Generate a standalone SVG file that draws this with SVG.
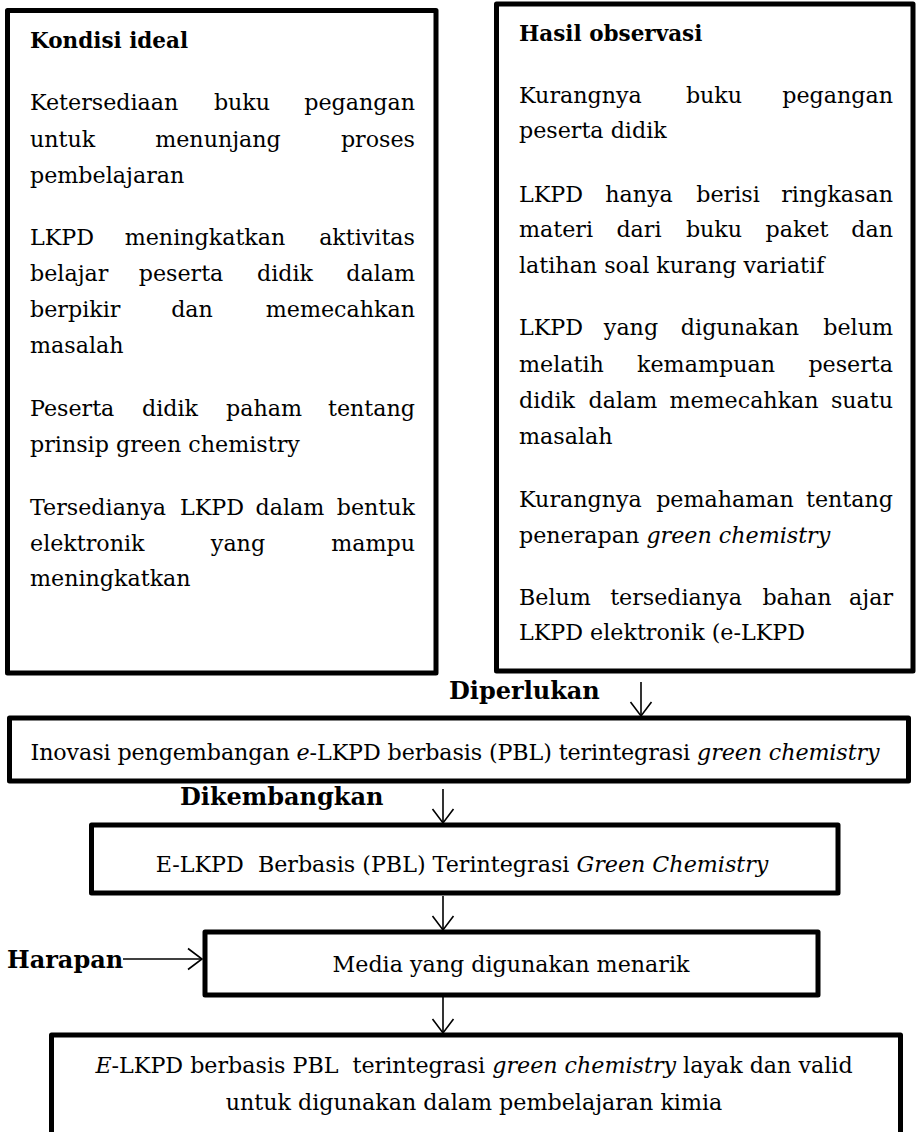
<svg xmlns="http://www.w3.org/2000/svg" width="916" height="1132" viewBox="0 0 916 1132">
<style>
.box{fill:#fff;stroke:#000;stroke-width:5;stroke-linejoin:round}
.t{font-family:"DejaVu Serif","Liberation Serif",serif;font-size:22.2px;fill:#000}
.b{font-weight:bold}
.h{font-size:21.5px}
.l{font-size:24px}
.i{font-style:italic}
.m{text-anchor:middle}
.e{text-anchor:end}
.p{white-space:pre}
.c{fill:none;stroke:#000;stroke-width:1.6}
</style>
<defs>
<marker id="v" markerUnits="userSpaceOnUse" markerWidth="32" markerHeight="32" viewBox="-16 -16 32 32" refX="0" refY="0" orient="auto" overflow="visible">
<path d="M-14,-10.5 L0,0 L-14,10.5" fill="none" stroke="#000" stroke-width="1.6"/>
</marker>
</defs>
<rect width="916" height="1132" fill="#fff"/>

<g id="node-kondisi">
<rect class="box" x="7.5" y="10.5" width="428.5" height="662.5"/>
<text class="t b h" x="30" y="48">Kondisi ideal</text>
<text class="t" y="110"><tspan x="30">Ketersediaan</tspan><tspan x="242" class="m">buku</tspan><tspan x="415" class="e">pegangan</tspan></text>
<text class="t" y="147"><tspan x="30">untuk</tspan><tspan x="218" class="m">menunjang</tspan><tspan x="415" class="e">proses</tspan></text>
<text class="t" x="30" y="183">pembelajaran</text>
<text class="t" y="245"><tspan x="30">LKPD</tspan><tspan x="205" class="m">meningkatkan</tspan><tspan x="415" class="e">aktivitas</tspan></text>
<text class="t" y="281"><tspan x="30">belajar</tspan><tspan x="181" class="m">peserta</tspan><tspan x="285" class="m">didik</tspan><tspan x="415" class="e">dalam</tspan></text>
<text class="t" y="317"><tspan x="30">berpikir</tspan><tspan x="192" class="m">dan</tspan><tspan x="415" class="e">memecahkan</tspan></text>
<text class="t" x="30" y="353">masalah</text>
<text class="t" y="416"><tspan x="30">Peserta</tspan><tspan x="170" class="m">didik</tspan><tspan x="264" class="m">paham</tspan><tspan x="415" class="e">tentang</tspan></text>
<text class="t" x="30" y="452">prinsip green chemistry</text>
<text class="t" y="515"><tspan x="30">Tersedianya</tspan><tspan x="212" class="m">LKPD</tspan><tspan x="290" class="m">dalam</tspan><tspan x="415" class="e">bentuk</tspan></text>
<text class="t" y="551"><tspan x="30">elektronik</tspan><tspan x="238" class="m">yang</tspan><tspan x="415" class="e">mampu</tspan></text>
<text class="t" x="30" y="586">meningkatkan</text>
</g>

<g id="node-hasil">
<rect class="box" x="496.5" y="4" width="416.5" height="667"/>
<text class="t b h" x="519" y="41">Hasil observasi</text>
<text class="t" y="103"><tspan x="519">Kurangnya</tspan><tspan x="714" class="m">buku</tspan><tspan x="893" class="e">pegangan</tspan></text>
<text class="t" x="519" y="138">peserta didik</text>
<text class="t" y="202"><tspan x="519">LKPD</tspan><tspan x="639" class="m">hanya</tspan><tspan x="728" class="m">berisi</tspan><tspan x="893" class="e">ringkasan</tspan></text>
<text class="t" y="237"><tspan x="519">materi</tspan><tspan x="639" class="m">dari</tspan><tspan x="714" class="m">buku</tspan><tspan x="797" class="m">paket</tspan><tspan x="893" class="e">dan</tspan></text>
<text class="t" x="519" y="273">latihan soal kurang variatif</text>
<text class="t" y="335"><tspan x="519">LKPD</tspan><tspan x="631" class="m">yang</tspan><tspan x="740" class="m">digunakan</tspan><tspan x="893" class="e">belum</tspan></text>
<text class="t" y="372"><tspan x="519">melatih</tspan><tspan x="706" class="m">kemampuan</tspan><tspan x="893" class="e">peserta</tspan></text>
<text class="t" y="408"><tspan x="519">didik</tspan><tspan x="623" class="m">dalam</tspan><tspan x="744" class="m">memecahkan</tspan><tspan x="893" class="e">suatu</tspan></text>
<text class="t" x="519" y="444">masalah</text>
<text class="t" y="507"><tspan x="519">Kurangnya</tspan><tspan x="725" class="m">pemahaman</tspan><tspan x="893" class="e">tentang</tspan></text>
<text class="t" x="519" y="543">penerapan <tspan class="i">green chemistry</tspan></text>
<text class="t" y="605"><tspan x="519">Belum</tspan><tspan x="676" class="m">tersedianya</tspan><tspan x="797" class="m">bahan</tspan><tspan x="893" class="e">ajar</tspan></text>
<text class="t" x="519" y="640">LKPD elektronik (e-LKPD</text>
</g>

<g id="label-diperlukan"><text class="t b l" x="449" y="699">Diperlukan</text></g>

<g id="node-inovasi">
<rect class="box" x="9.5" y="718" width="899" height="63"/>
<text class="t m" x="455" y="760" textLength="849" lengthAdjust="spacing">Inovasi pengembangan <tspan class="i">e</tspan>-LKPD berbasis (PBL) terintegrasi <tspan class="i">green chemistry</tspan></text>
</g>

<g id="label-dikembangkan"><text class="t b l" x="180" y="805">Dikembangkan</text></g>

<g id="node-elkpd">
<rect class="box" x="91.5" y="825" width="746.5" height="68"/>
<text class="t m p" x="462" y="872" xml:space="preserve">E-LKPD  Berbasis (PBL) Terintegrasi <tspan class="i">Green Chemistry</tspan></text>
</g>

<g id="label-harapan"><text class="t b l" x="7" y="968">Harapan</text></g>

<g id="node-media">
<rect class="box" x="205" y="932" width="613" height="63"/>
<text class="t m" x="511" y="972">Media yang digunakan menarik</text>
</g>

<g id="node-hasil-akhir">
<rect class="box" x="51.5" y="1035" width="849" height="120"/>
<text class="t m p" x="474" y="1073" xml:space="preserve"><tspan class="i">E</tspan>-LKPD berbasis PBL  terintegrasi <tspan class="i">green chemistry</tspan> layak dan valid</text>
<text class="t m" x="474" y="1110">untuk digunakan dalam pembelajaran kimia</text>
</g>

<g id="connectors">
<path class="c" d="M641,682 L641,716" marker-end="url(#v)"/>
<path class="c" d="M443,789 L443,823" marker-end="url(#v)"/>
<path class="c" d="M443,896 L443,930" marker-end="url(#v)"/>
<path class="c" d="M443,997 L443,1033" marker-end="url(#v)"/>
<path class="c" d="M123,959 L202,959" marker-end="url(#v)"/>
</g>
</svg>
